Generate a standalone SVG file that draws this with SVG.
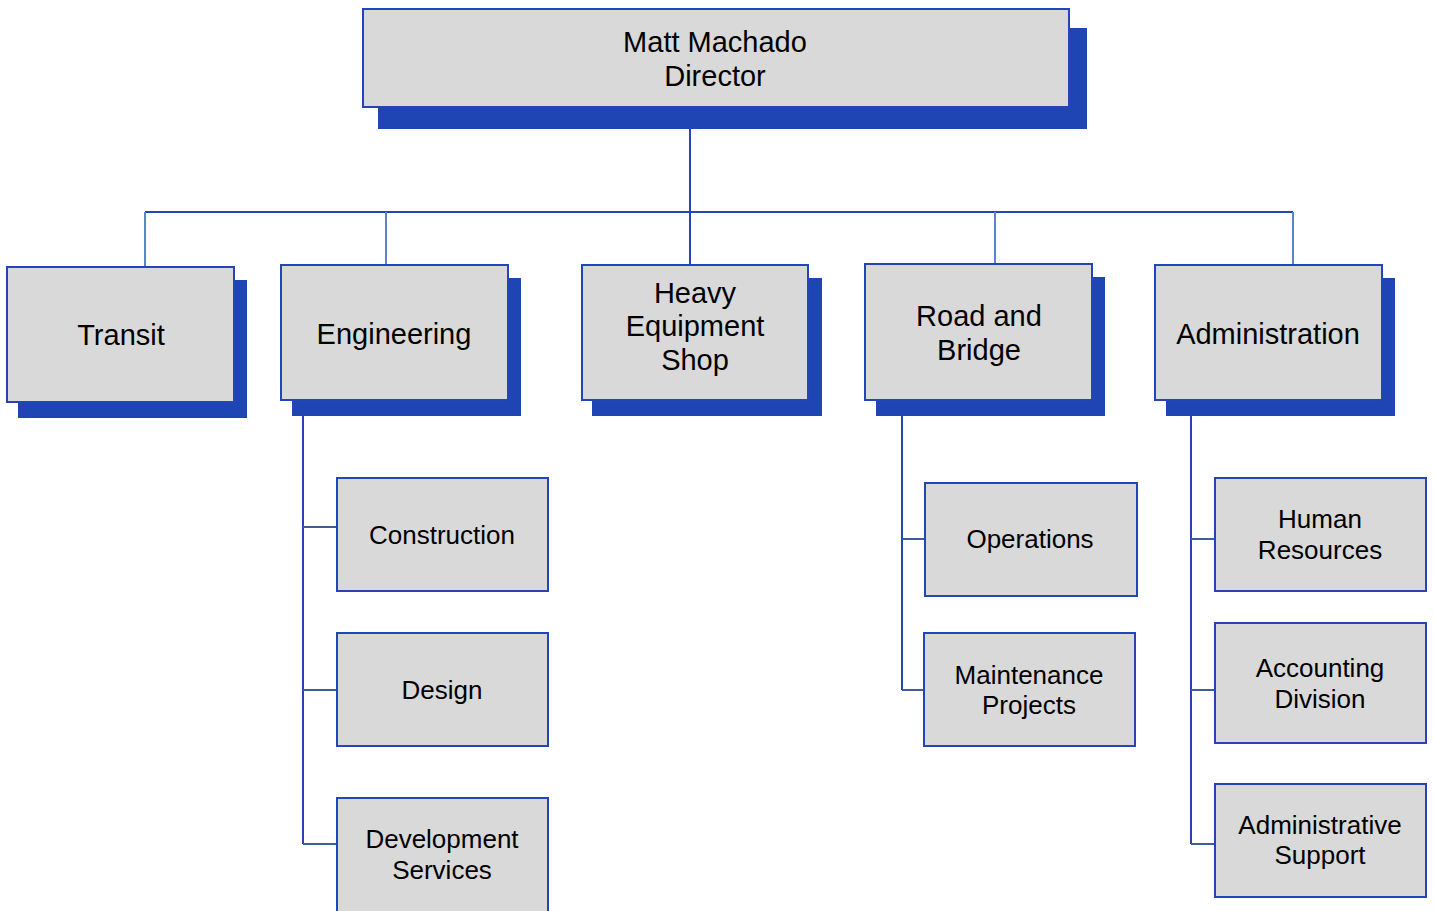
<svg xmlns="http://www.w3.org/2000/svg" width="1434" height="911" viewBox="0 0 1434 911">
<style>
.sh{fill:#1f45b5}
.bx{fill:#d9d9d9;stroke:#2445b8;stroke-width:2}
.t{font-family:"Liberation Sans",Arial,sans-serif;fill:#000;text-anchor:middle}
.l{font-size:29px}
.s{font-size:26px}
.c{fill:none;stroke:#2445b8;stroke-width:2}
.c2{fill:none;stroke:#5a85c8;stroke-width:2}
.c3{fill:none;stroke:#3c5f96;stroke-width:2}
</style>
<rect width="1434" height="911" fill="#fff"/>
<g id="connectors">
<path class="c" d="M690 107V265"/>
<path class="c" d="M145 212H1293"/>
<path class="c2" d="M145 212V267M386 212V265M995 212V264M1293 212V265"/>
<path class="c" d="M303 416V844M902 416V690M1191 416V844"/>
<path class="c3" d="M303 527H337M303 690H337M303 844H337M902 539H925M902 690H924M1191 539H1215M1191 690H1215M1191 844H1215"/>
</g>
<g id="director">
<rect class="sh" x="378" y="28" width="709" height="101"/>
<rect class="bx" x="363" y="9" width="706" height="98"/>
<text class="t l" x="715" y="52">Matt Machado</text>
<text class="t l" x="715" y="86">Director</text>
</g>
<g id="transit">
<rect class="sh" x="18" y="280" width="229" height="138"/>
<rect class="bx" x="7" y="267" width="227" height="135"/>
<text class="t l" x="121" y="345">Transit</text>
</g>
<g id="engineering">
<rect class="sh" x="292" y="278" width="229" height="138"/>
<rect class="bx" x="281" y="265" width="227" height="135"/>
<text class="t l" x="394" y="344">Engineering</text>
</g>
<g id="heavy">
<rect class="sh" x="592" y="278" width="230" height="138"/>
<rect class="bx" x="582" y="265" width="226" height="135"/>
<text class="t l" x="695" y="303">Heavy</text>
<text class="t l" x="695" y="336">Equipment</text>
<text class="t l" x="695" y="370">Shop</text>
</g>
<g id="road">
<rect class="sh" x="876" y="277" width="229" height="139"/>
<rect class="bx" x="865" y="264" width="227" height="136"/>
<text class="t l" x="979" y="326">Road and</text>
<text class="t l" x="979" y="360">Bridge</text>
</g>
<g id="administration">
<rect class="sh" x="1166" y="278" width="229" height="138"/>
<rect class="bx" x="1155" y="265" width="227" height="135"/>
<text class="t l" x="1268" y="344">Administration</text>
</g>
<g id="construction">
<rect class="bx" x="337" y="478" width="211" height="113"/>
<text class="t s" x="442" y="544">Construction</text>
</g>
<g id="design">
<rect class="bx" x="337" y="633" width="211" height="113"/>
<text class="t s" x="442" y="699">Design</text>
</g>
<g id="devservices">
<rect class="bx" x="337" y="798" width="211" height="114"/>
<text class="t s" x="442" y="848">Development</text>
<text class="t s" x="442" y="879">Services</text>
</g>
<g id="operations">
<rect class="bx" x="925" y="483" width="212" height="113"/>
<text class="t s" x="1030" y="548">Operations</text>
</g>
<g id="maintenance">
<rect class="bx" x="924" y="633" width="211" height="113"/>
<text class="t s" x="1029" y="684">Maintenance</text>
<text class="t s" x="1029" y="714">Projects</text>
</g>
<g id="hr">
<rect class="bx" x="1215" y="478" width="211" height="113"/>
<text class="t s" x="1320" y="528">Human</text>
<text class="t s" x="1320" y="559">Resources</text>
</g>
<g id="accounting">
<rect class="bx" x="1215" y="623" width="211" height="120"/>
<text class="t s" x="1320" y="677">Accounting</text>
<text class="t s" x="1320" y="708">Division</text>
</g>
<g id="adminsupport">
<rect class="bx" x="1215" y="784" width="211" height="113"/>
<text class="t s" x="1320" y="834">Administrative</text>
<text class="t s" x="1320" y="864">Support</text>
</g>
</svg>
